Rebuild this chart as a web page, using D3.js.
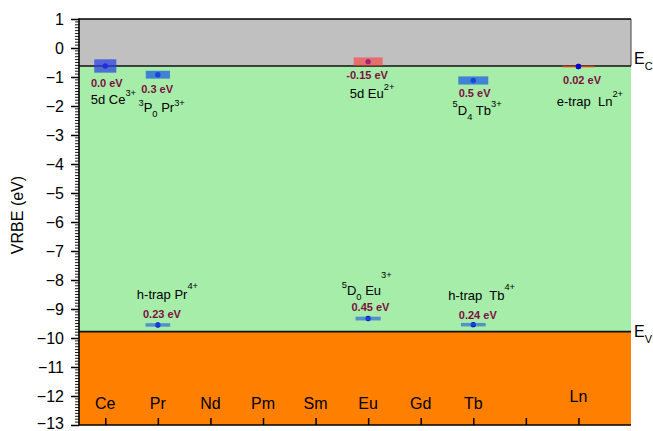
<!DOCTYPE html>
<html>
<head>
<meta charset="utf-8">
<script src="https://cdn.jsdelivr.net/npm/d3@7"></script>
<style>
  html, body { margin: 0; padding: 0; background: #fff; }
  svg { display: block; font-family: "Liberation Sans", Arial, sans-serif; }
</style>
</head>
<body>
<svg id="chart" width="653" height="431"></svg>
<script>
// Lanthanide host categories along x (position 9 left blank)
const categories = ["Ce", "Pr", "Nd", "Pm", "Sm", "Eu", "Gd", "Tb", "", "Ln"];
const yTickValues = d3.range(-13, 2);

// Band edges (VRBE, eV)
const conductionEdge = -0.62;
const valenceEdge = -9.78;

// Levels: host, reference band, depth from that band (eV), printed depth
const levelNames  = ["5d Ce^{3+}", "^{3}P_{0} Pr^{3+}", "5d Eu^{2+}", "^{5}D_{4} Tb^{3+}", "e-trap  Ln^{2+}",
                     "h-trap Pr^{4+}", "^{5}D_{0} Eu^{3+}", "h-trap  Tb^{4+}"];
const levelHosts  = ["Ce", "Pr", "Eu", "Tb", "Ln", "Pr", "Eu", "Tb"];
const levelBand   = ["EC", "EC", "EC", "EC", "EC", "EV", "EV", "EV"];
const levelDepth  = [0.0, 0.3, -0.15, 0.5, 0.02, 0.23, 0.45, 0.24];
const depthLabels = ["0.0 eV", "0.3 eV", "-0.15 eV", "0.5 eV", "0.02 eV", "0.23 eV", "0.45 eV", "0.24 eV"];

// ---- drawing styles / layout ----
const W = 653, H = 431;
const margin = { left: 79, right: 22, top: 19, bottom: 6 };
const svg = d3.select("#chart");

const x = d3.scaleLinear().domain([0.5, 11]).range([margin.left, W - margin.right]);
const y = d3.scaleLinear().domain([-13, 1]).range([H - margin.bottom, margin.top]);

const x0 = x.range()[0], x1 = x.range()[1];
const yTop = y(1), yBot = y(-13);

// per-level box size (x units, eV) and colours
const boxStyle = [
  { w: 0.42, h: 0.46, fill: "#2a3fe2", op: 0.72 },
  { w: 0.46, h: 0.27, fill: "#1f5ee0", op: 0.75 },
  { w: 0.55, h: 0.29, fill: "#ff3b3b", op: 0.62 },
  { w: 0.57, h: 0.28, fill: "#1f5ee0", op: 0.75 },
  { w: 0.61, h: 0.06, fill: "#ff4a10", op: 0.7 },
  { w: 0.47, h: 0.12, fill: "#2462d8", op: 0.65 },
  { w: 0.48, h: 0.13, fill: "#2462d8", op: 0.65 },
  { w: 0.47, h: 0.12, fill: "#2462d8", op: 0.65 }
];
// label offsets relative to the level point (px); rise = lift of each superscript
const labelLayout = [
  { vdx: 1.5, vdy: 21,   ndx: -14.6, ndy: 38.5, rise: [8] },
  { vdx: -0.7, vdy: 18.3, ndx: -19.4, ndy: 37.8, rise: [6, 6] },
  { vdx: -1,  vdy: 17.2, ndx: -18.4, ndy: 36,   rise: [8] },
  { vdx: 1.3, vdy: 16.4, ndx: -20.7, ndy: 35,   rise: [8.5, 8.5] },
  { vdx: 3.6, vdy: 17.9, ndx: -21.7, ndy: 39.6, rise: [9] },
  { vdx: 4.1, vdy: -7,   ndx: -21,   ndy: -26.4, rise: [9.5] },
  { vdx: 2.3, vdy: -7.3, ndx: -26.4, ndy: -24,  rise: [7, 17] },
  { vdx: 4.5, vdy: -6,   ndx: -25,   ndy: -24.6, rise: [10] }
];

const levels = levelNames.map((name, i) => ({
  name,
  host: categories.indexOf(levelHosts[i]) + 1,
  value: levelBand[i] === "EC" ? conductionEdge - levelDepth[i] : valenceEdge + levelDepth[i],
  label: depthLabels[i],
  box: boxStyle[i],
  lay: labelLayout[i]
}));

// ---- band regions ----
svg.append("rect").attr("x", x0).attr("y", yTop)
  .attr("width", x1 - x0).attr("height", y(conductionEdge) - yTop).attr("fill", "#c0c0c0");
svg.append("rect").attr("x", x0).attr("y", y(conductionEdge))
  .attr("width", x1 - x0).attr("height", y(valenceEdge) - y(conductionEdge)).attr("fill", "#a7edaa");
svg.append("rect").attr("x", x0).attr("y", y(valenceEdge))
  .attr("width", x1 - x0).attr("height", yBot - y(valenceEdge)).attr("fill", "#ff7f00");
svg.append("line").attr("x1", x1).attr("x2", x1).attr("y1", yTop).attr("y2", y(conductionEdge))
  .attr("stroke", "#444").attr("stroke-width", 1);

// band edge lines
[conductionEdge, valenceEdge].forEach(v => {
  svg.append("line").attr("x1", x0).attr("x2", x1).attr("y1", y(v)).attr("y2", y(v))
    .attr("stroke", "#111").attr("stroke-width", 1.6);
});

// ---- level points and boxes ----
const g = svg.append("g");
g.selectAll("circle.lvl").data(levels).join("circle")
  .attr("class", "lvl")
  .attr("cx", d => x(d.host)).attr("cy", d => y(d.value))
  .attr("r", 2.7).attr("fill", "#0000d8");
g.selectAll("rect.lvl").data(levels).join("rect")
  .attr("class", "lvl")
  .attr("x", d => x(d.host - d.box.w / 2))
  .attr("y", d => y(d.value + d.box.h / 2))
  .attr("width", d => x(d.host + d.box.w / 2) - x(d.host - d.box.w / 2))
  .attr("height", d => y(d.value - d.box.h / 2) - y(d.value + d.box.h / 2))
  .attr("fill", d => d.box.fill).attr("fill-opacity", d => d.box.op);
// the e-trap point sits on top of its thin bar
g.selectAll("circle.top").data(levels.filter(d => d.box.h < 0.1)).join("circle")
  .attr("class", "top")
  .attr("cx", d => x(d.host)).attr("cy", d => y(d.value))
  .attr("r", 2.7).attr("fill", "#0000d8");

// depth labels
g.selectAll("text.depth").data(levels).join("text")
  .attr("class", "depth")
  .attr("x", d => x(d.host) + d.lay.vdx).attr("y", d => y(d.value) + d.lay.vdy)
  .attr("text-anchor", "middle")
  .attr("font-size", 11).attr("font-weight", "bold").attr("fill", "#7a1040")
  .text(d => d.label);

// rich text: ^{..} superscript, _{..} subscript
function richText(sel, str, size, rises) {
  const parts = [];
  const re = /(\^\{[^}]*\}|_\{[^}]*\})/g;
  let last = 0, m;
  while ((m = re.exec(str)) !== null) {
    if (m.index > last) parts.push({ t: str.slice(last, m.index), k: "n" });
    parts.push({ t: m[0].slice(2, -1), k: m[0][0] === "^" ? "sup" : "sub" });
    last = re.lastIndex;
  }
  if (last < str.length) parts.push({ t: str.slice(last), k: "n" });
  let shift = 0, supIndex = 0;
  parts.forEach(p => {
    let target = 0;
    if (p.k === "sup") target = -(rises[Math.min(supIndex++, rises.length - 1)]);
    else if (p.k === "sub") target = 5;
    sel.append("tspan")
      .attr("dy", target - shift)
      .attr("font-size", p.k === "n" ? size : size * 0.72)
      .text(p.t);
    shift = target;
  });
}

levels.forEach(d => {
  const t = g.append("text")
    .attr("x", x(d.host) + d.lay.ndx).attr("y", y(d.value) + d.lay.ndy)
    .attr("fill", "#000").style("white-space", "pre");
  richText(t, d.name, 13, d.lay.rise);
});

// ---- axes ----
const yAxis = d3.axisLeft(y).tickValues(yTickValues).tickSize(8).tickPadding(7).tickFormat(d3.format("d"));
const ya = svg.append("g").attr("transform", `translate(${x0},0)`).call(yAxis);
ya.selectAll("text").attr("font-size", 16).attr("font-family", "Liberation Sans, Arial, sans-serif").attr("fill", "#000");
ya.selectAll(".tick").filter(d => d === -13).select("text").attr("dy", "0.2em");
ya.select(".domain").remove();
ya.selectAll(".tick line").attr("stroke", "#000").attr("stroke-width", 1.5);

// minor y ticks
const minor = d3.range(-130, 11).map(v => v / 10).filter(v => Math.abs(v - Math.round(v)) > 0.01);
svg.append("g").selectAll("line").data(minor).join("line")
  .attr("x1", x0 - 4).attr("x2", x0).attr("y1", d => y(d)).attr("y2", d => y(d))
  .attr("stroke", "#000").attr("stroke-width", 0.9);

// bottom axis: inward ticks, labels inside plot
const xAxis = d3.axisBottom(x).tickValues(d3.range(1, 11)).tickSize(-7).tickFormat("");
const xa = svg.append("g").attr("transform", `translate(0,${yBot})`).call(xAxis);
xa.select(".domain").remove();
xa.selectAll(".tick line").attr("stroke", "#000").attr("stroke-width", 1.5);

svg.append("g").selectAll("text").data(categories).join("text")
  .attr("x", (d, i) => x(i + 1)).attr("y", d => d === "Ln" ? yBot - 23 : yBot - 16)
  .attr("text-anchor", "middle").attr("font-size", 16).attr("fill", "#000")
  .text(d => d);

// frame lines
svg.append("line").attr("x1", x0).attr("x2", x1).attr("y1", yTop).attr("y2", yTop)
  .attr("stroke", "#000").attr("stroke-width", 1.6);
svg.append("line").attr("x1", x0).attr("x2", x1).attr("y1", yBot).attr("y2", yBot)
  .attr("stroke", "#000").attr("stroke-width", 1.6);
svg.append("line").attr("x1", x0).attr("x2", x0).attr("y1", yTop - 0.8).attr("y2", yBot + 0.8)
  .attr("stroke", "#000").attr("stroke-width", 1.6);

// band edge names
function edgeLabel(v, sub, dy) {
  const t = svg.append("text").attr("x", x1 + 3).attr("y", y(v) + dy).attr("font-size", 16).attr("fill", "#000");
  t.append("tspan").text("E");
  t.append("tspan").attr("dy", 5.5).attr("font-size", 11).text(sub);
}
edgeLabel(conductionEdge, "C", -1.5);
edgeLabel(valenceEdge, "V", 5.5);

// y axis title
svg.append("text")
  .attr("transform", `translate(23,215) rotate(-90)`)
  .attr("text-anchor", "middle").attr("font-size", 16).attr("fill", "#000")
  .text("VRBE (eV)");
</script>
</body>
</html>
